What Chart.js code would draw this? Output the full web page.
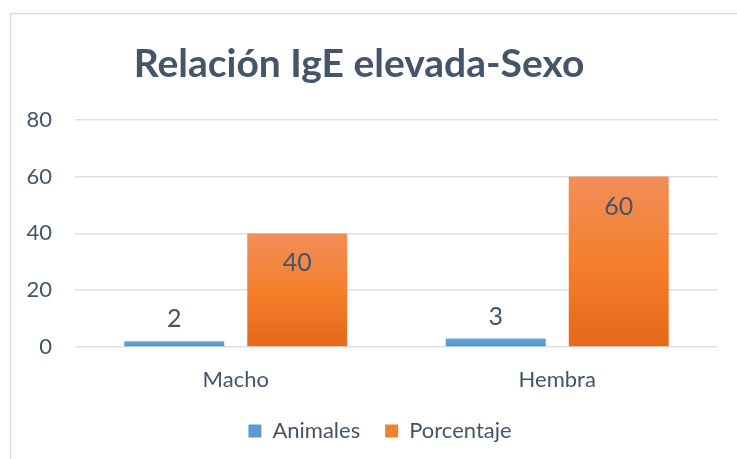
<!DOCTYPE html>
<html>
<head>
<meta charset="utf-8">
<script src="https://cdn.jsdelivr.net/npm/chart.js@4"></script>
<style>
  html, body { margin: 0; padding: 0; background: #fff; }
  #wrap { width: 737px; height: 459px; position: relative; }
</style>
</head>
<body>
<div id="wrap"><canvas id="chart" width="737" height="459"></canvas></div>
<script>
// --- data ---
const categories = ['Macho', 'Hembra'];
const animales = [2, 3];
const porcentaje = [40, 60];
const yTicks = [0, 20, 40, 60, 80];

const TEXT = '#44546A';
const FONT = 'Lato, "Open Sans", sans-serif';

// vertical gradient for each bar, from its top down to zero
function barGradient(stops) {
    return function(ctx) {
        const chart = ctx.chart;
        const y = chart.scales.y;
        if (!y || ctx.parsed === undefined || ctx.type !== 'data') return stops[1];
        const top = y.getPixelForValue(ctx.parsed.y);
        const bottom = y.getPixelForValue(0);
        if (!isFinite(top) || top === bottom) return stops[1];
        const g = chart.ctx.createLinearGradient(0, top, 0, bottom);
        g.addColorStop(0, stops[0]);
        g.addColorStop(0.5, stops[1]);
        g.addColorStop(1, stops[2]);
        return g;
    };
}

// frame round the chart, like the office chart border
const framePlugin = {
    id: 'frame',
    afterLayout(chart) {
        // legend sits a bit right of centre in the original
        if (chart.legend) {
            chart.legend.left += 21;
            chart.legend.right += 21;
        }
    },
    beforeDraw(chart) {
        const c = chart.ctx;
        c.save();
        c.fillStyle = '#fff';
        c.fillRect(0, 0, chart.width, chart.height);
        c.strokeStyle = '#d9dde3';
        c.lineWidth = 1.5;
        c.strokeRect(10.5, 13.5, 900, 600);
        c.restore();
    }
};

// value labels: above the small bars, inside the top of the big ones
const labelPlugin = {
    id: 'valueLabels',
    afterDatasetsDraw(chart) {
        const c = chart.ctx;
        c.save();
        c.font = '25px ' + FONT;
        c.fillStyle = TEXT;
        c.textAlign = 'center';
        c.textBaseline = 'middle';
        chart.data.datasets.forEach((ds, i) => {
            chart.getDatasetMeta(i).data.forEach((bar, j) => {
                const y = i === 0 ? bar.y - 22 : bar.y + 30;
                c.fillText(String(ds.data[j]), bar.x, y);
            });
        });
        c.restore();
    }
};

new Chart(document.getElementById('chart'), {
    type: 'bar',
    data: {
        labels: categories,
        datasets: [
            {
                label: 'Animales',
                data: animales,
                backgroundColor: barGradient(['#6aa6de', '#5b9bd5', '#4d8dcc']),
                borderWidth: 0
            },
            {
                label: 'Porcentaje',
                data: porcentaje,
                backgroundColor: barGradient(['#f18e5a', '#f57f2b', '#e4691a']),
                borderWidth: 0
            }
        ]
    },
    options: {
        responsive: false,
        animation: false,
        devicePixelRatio: 1,
        categoryPercentage: 0.765,
        barPercentage: 0.813,
        layout: { padding: { left: 0, right: 19, top: 0, bottom: 7 } },
        scales: {
            x: {
                grid: { display: false },
                border: { display: false },
                ticks: { color: TEXT, font: { family: FONT, size: 22 }, padding: 12 },
                afterFit(s) { s.height = 48; }
            },
            y: {
                min: 0,
                max: 80,
                afterBuildTicks(s) { s.ticks = yTicks.map(v => ({ value: v })); },
                grid: { color: '#dde1e6', lineWidth: 1.5, drawTicks: false },
                border: { display: false },
                ticks: { color: TEXT, font: { family: FONT, size: 22 }, padding: 23 },
                afterFit(s) { s.width = 75; }
            }
        },
        plugins: {
            title: {
                display: true,
                text: 'Relación IgE elevada-Sexo',
                color: TEXT,
                font: { family: FONT, size: 39, weight: 'bold' },
                padding: { top: 41, bottom: 32 }
            },
            legend: {
                position: 'bottom',
                labels: {
                    color: TEXT,
                    font: { family: FONT, size: 22 },
                    boxWidth: 13,
                    boxHeight: 13,
                    padding: 25,
                    generateLabels(chart) {
                        const cols = ['#5b9bd5', '#f07f33'];
                        return chart.data.datasets.map((ds, i) => ({
                            text: ds.label,
                            fillStyle: cols[i],
                            strokeStyle: cols[i],
                            lineWidth: 0,
                            fontColor: TEXT,
                            datasetIndex: i
                        }));
                    }
                }
            },
            tooltip: { enabled: false }
        }
    },
    plugins: [framePlugin, labelPlugin]
});
</script>
</body>
</html>
